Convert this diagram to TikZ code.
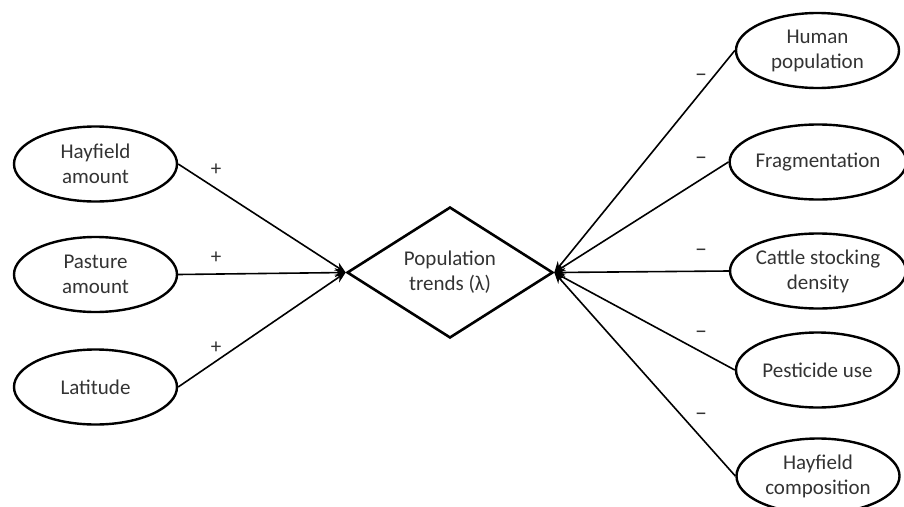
\documentclass[tikz,border=0pt]{standalone}
\usepackage{fontspec}
\setmainfont{Carlito}
\definecolor{inkgray}{HTML}{333333}
\usetikzlibrary{arrows.meta,shapes.geometric}
\tikzset{
  factor/.style={draw=black,ellipse,line width=2.4pt,minimum width=163pt,minimum height=75pt,
    inner sep=0pt,align=center,text=inkgray,font=\fontsize{21}{25}\selectfont},
  effect/.style={draw=black,line width=1.6pt,-{Stealth[length=11pt,width=9pt]}},
  sign/.style={text=inkgray,font=\fontsize{21}{24}\selectfont,inner sep=0pt}
}
\begin{document}
\begin{tikzpicture}[x=1pt,y=-1pt]
\useasboundingbox (0,0) rectangle (904,506);
\node[draw=black,diamond,line width=2.6pt,minimum width=206pt,minimum height=131pt,inner sep=0pt,
  aspect=1.57,align=center,text=inkgray,font=\fontsize{21}{25}\selectfont] (trend) at (450,272.5) {Population\\trends (λ)};
% left: positive drivers
\node[factor] (hayamt) at (95.5,164) {Hayfield\\amount};
\node[factor] (pasture) at (95.5,274.5) {Pasture\\amount};
\node[factor] (lat) at (95.5,387) {Latitude};
% right: negative drivers
\node[factor] (human) at (817.5,50.5) {Human\\population};
\node[factor] (frag) at (818,162) {Fragmentation};
\node[factor] (cattle) at (818,271) {Cattle stocking\\density};
\node[factor] (pest) at (817.5,370) {Pesticide use};
\node[factor] (haycomp) at (818,476) {Hayfield\\composition};
\foreach \src in {hayamt,pasture,lat}
  \draw[effect] (\src.east) -- (trend.west);
\foreach \src in {human,frag,cattle,pest,haycomp}
  \draw[effect] (\src.west) -- (trend.east);
\node[sign] (p1) at (216,170) {+};
\node[sign] (p2) at (216,258) {+};
\node[sign] (p3) at (216,348) {+};
\node[sign,font=\fontsize{24}{26}\selectfont] (m1) at (701,78) {–};
\node[sign,font=\fontsize{24}{26}\selectfont] (m2) at (701,161) {–};
\node[sign,font=\fontsize{24}{26}\selectfont] (m3) at (701,253) {–};
\node[sign,font=\fontsize{24}{26}\selectfont] (m4) at (701,335) {–};
\node[sign,font=\fontsize{24}{26}\selectfont] (m5) at (701,417) {–};
\end{tikzpicture}
\end{document}
